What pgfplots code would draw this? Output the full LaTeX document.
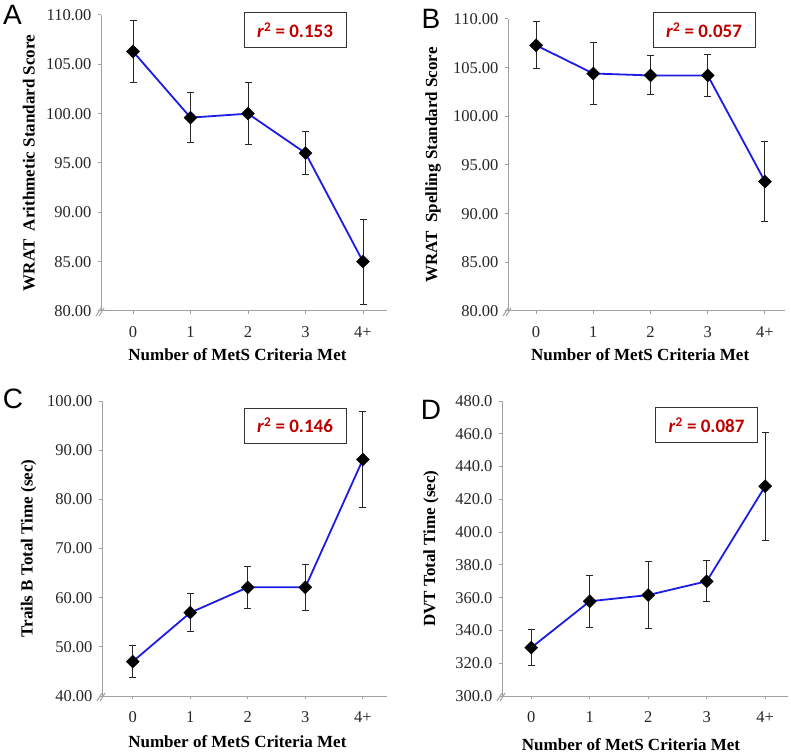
\documentclass[border=0pt]{standalone}
\usepackage{fontspec}
\setmainfont{Liberation Serif}
\newfontfamily\carlitofont{Carlito}
\newfontfamily\arialfont{Liberation Sans}
\usepackage{pgfplots}
\pgfplotsset{compat=1.18}

\definecolor{lineblue}{RGB}{28,28,228}
\definecolor{rdred}{RGB}{192,0,0}
\definecolor{axgray}{RGB}{160,160,160}

\pgfplotsset{
  panel/.style={
    scale only axis,
    anchor=south west,
    axis x line*=bottom, axis y line*=left,
    x axis line style={-}, y axis line style={-},
    axis line style={axgray, line width=1pt},
    every tick/.style={axgray, line width=1pt},
    major tick length=3pt,
    tick align=outside,
    xtick={0,1,2,3,4}, xticklabels={0,1,2,3,4+},
    every tick label/.append style={font=\rmfamily\mdseries\fontsize{16.5}{18}\selectfont, text=black!85},
    xticklabel shift=9pt,
    yticklabel shift=3pt,
    /pgf/number format/assume math mode=true,
    scaled y ticks=false,
    label style={font=\rmfamily\bfseries\fontsize{17}{19}\selectfont},
    clip=false,
  },
  series/.style={
    lineblue, line width=1.8pt,
    mark=square*, mark size=4.6pt,
    mark options={rotate=45, draw=black, fill=black, line width=0.4pt},
    error bars/.cd, y dir=both, y explicit,
    error bar style={black!85, line width=1pt},
    error mark options={black!85, rotate=90, mark size=3.5pt, line width=1pt},
  },
}
\tikzset{
  r2/.style={draw=black!80, line width=1pt, fill=white,
    minimum width=102pt, minimum height=35pt, inner sep=0pt,
    text=rdred, font=\carlitofont\bfseries\fontsize{19}{21}\selectfont},
  brk/.style={axgray, line width=1pt},
  letter/.style={font=\arialfont\fontsize{28}{30}\selectfont},
}

\begin{document}
\begin{tikzpicture}[font=\rmfamily]
\useasboundingbox (0,0) rectangle (791pt,753pt);

% A
\begin{axis}[panel, at={(101pt,442pt)}, width=286pt, height=296pt,
  xmin=-0.557, xmax=4.417, ymin=80, ymax=110, ytick={80,85,...,110},
  yticklabel style={/pgf/number format/fixed, /pgf/number format/fixed zerofill, /pgf/number format/precision=2},
  xlabel={Number of MetS Criteria Met},
  xlabel style={at={(axis description cs:0.477,-0.149)}, anchor=center},
  ylabel={WRAT\ \ Arithmetic Standard Score},
  ylabel style={at={(axis description cs:-0.252,0.5)}, anchor=center}]
\addplot[series] table[x=x, y=y, y error=e] {
x y e
0 106.3 3.1
1 99.6 2.5
2 100.0 3.15
3 96.0 2.2
4 85.0 4.3
};
\draw[brk] ([shift={(-5pt,-5pt)}]axis description cs:0,0) -- ++(5pt,8pt);
\draw[brk] ([shift={(-2pt,-5pt)}]axis description cs:0,0) -- ++(5pt,8pt);
\end{axis}

% B
\begin{axis}[panel, at={(508pt,442pt)}, width=277pt, height=292pt,
  xmin=-0.49, xmax=4.35, ymin=80, ymax=110, ytick={80,85,...,110},
  yticklabel style={/pgf/number format/fixed, /pgf/number format/fixed zerofill, /pgf/number format/precision=2},
  xlabel={Number of MetS Criteria Met},
  xlabel style={at={(axis description cs:0.477,-0.151)}, anchor=center},
  ylabel={WRAT\ \ Spelling Standard Score},
  ylabel style={at={(axis description cs:-0.27,0.5)}, anchor=center}]
\addplot[series] table[x=x, y=y, y error=e] {
x y e
0 107.3 2.4
1 104.4 3.2
2 104.2 2.0
3 104.2 2.15
4 93.3 4.15
};
\draw[brk] ([shift={(-5pt,-5pt)}]axis description cs:0,0) -- ++(5pt,8pt);
\draw[brk] ([shift={(-2pt,-5pt)}]axis description cs:0,0) -- ++(5pt,8pt);
\end{axis}

% C
\begin{axis}[panel, at={(102pt,57pt)}, width=285pt, height=295pt,
  xmin=-0.534, xmax=4.42, ymin=40, ymax=100, ytick={40,50,...,100},
  yticklabel style={/pgf/number format/fixed, /pgf/number format/fixed zerofill, /pgf/number format/precision=2},
  xlabel={Number of MetS Criteria Met},
  xlabel style={at={(axis description cs:0.475,-0.153)}, anchor=center},
  ylabel={Trails B Total Time (sec)},
  ylabel style={at={(axis description cs:-0.258,0.5)}, anchor=center}]
\addplot[series] table[x=x, y=y, y error=e] {
x y e
0 47.0 3.3
1 56.95 3.8
2 62.1 4.3
3 62.1 4.7
4 88.1 9.7
};
\draw[brk] ([shift={(-5pt,-5pt)}]axis description cs:0,0) -- ++(5pt,8pt);
\draw[brk] ([shift={(-2pt,-5pt)}]axis description cs:0,0) -- ++(5pt,8pt);
\end{axis}

% D
\begin{axis}[panel, at={(502pt,57pt)}, width=286pt, height=295pt,
  xmin=-0.50, xmax=4.39, ymin=300, ymax=480, ytick={300,320,...,480},
  yticklabel style={/pgf/number format/fixed, /pgf/number format/fixed zerofill, /pgf/number format/precision=1},
  xlabel={Number of MetS Criteria Met},
  xlabel style={at={(axis description cs:0.451,-0.166)}, anchor=center},
  ylabel={DVT Total Time (sec)},
  ylabel style={at={(axis description cs:-0.248,0.5)}, anchor=center}]
\addplot[series] table[x=x, y=y, y error=e] {
x y e
0 329.5 11
1 357.8 16
2 361.6 20.5
3 370.0 12.4
4 428.0 33
};
\draw[brk] ([shift={(-5pt,-5pt)}]axis description cs:0,0) -- ++(5pt,8pt);
\draw[brk] ([shift={(-2pt,-5pt)}]axis description cs:0,0) -- ++(5pt,8pt);
\end{axis}

% r^2 boxes
\node[r2] at (295pt,722.5pt) {\textit{r}\textsuperscript{2} = 0.153};
\node[r2] at (704pt,722.5pt) {\textit{r}\textsuperscript{2} = 0.057};
\node[r2] at (295pt,327.5pt) {\textit{r}\textsuperscript{2} = 0.146};
\node[r2] at (706.5pt,328pt) {\textit{r}\textsuperscript{2} = 0.087};

% panel letters
\node[letter] at (12.5pt,738pt) {A};
\node[letter] at (431pt,734.5pt) {B};
\node[letter] at (13pt,354pt) {C};
\node[letter] at (431pt,343pt) {D};
\end{tikzpicture}
\end{document}
